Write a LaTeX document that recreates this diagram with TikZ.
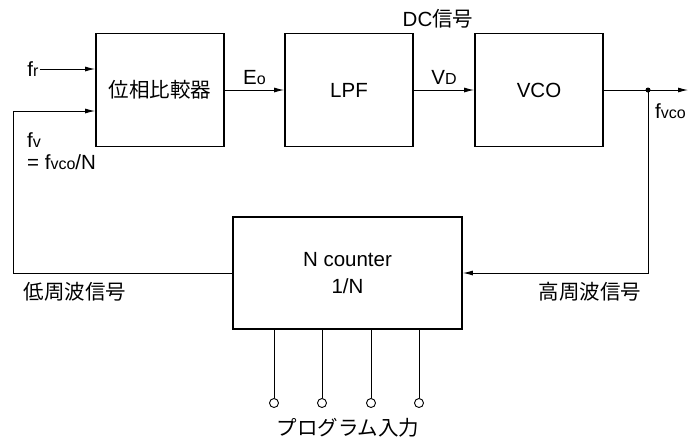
\documentclass[tikz,border=0pt]{standalone}
\usepackage{fontspec}
\setmainfont{Liberation Sans}
\newfontfamily\jpfont{Noto Sans CJK JP}
\usetikzlibrary{arrows.meta}
\newcommand\subs[1]{{\fontsize{16}{16}\selectfont #1}}
\tikzset{
	block/.style={draw,line width=1.8pt,minimum width=128pt,minimum height=113pt,inner sep=0pt},
	wire/.style={line width=0.9pt},
	pinc/.style={draw,circle,line width=0.9pt,inner sep=0pt,minimum size=9pt},
	>={Latex[length=10pt,width=5pt]}
}
\begin{document}
\begin{tikzpicture}[x=1pt,y=-1pt,inner sep=1pt,font=\fontsize{20.5}{24}\selectfont]
	\useasboundingbox (0,0) rectangle (688,440);
	\node[block] (Phase) at (160,90) {\jpfont 位相比較器};
	\node[block] (LPF) at (349,90) {LPF};
	\node[block] (VCO) at (539,90) {VCO};
	\node[block,minimum width=229pt,minimum height=112pt,align=center,font=\fontsize{20.5}{27}\selectfont] (Counter) at (347.5,273) {N counter\\1/N};
	\node (fr) at (33,69) {f\subs{r}};
	\draw [wire] [->] (fr.east) -- (fr.east -| Phase.west);
	\draw [wire] [->] (Phase) -- (LPF) node [midway,above=4pt] {E\subs{o}};
	\draw [wire] [->] (LPF) -- (VCO) node [midway,above=4pt] {V\subs{D}};
	\node (DC) at (438,19) {DC\jpfont 信号};
	\coordinate (Tap) at (648,90);
	\coordinate (Out) at (688,90);
	\draw [wire] (VCO) -- (Tap);
	\draw [wire] [->] (Tap) -- (Out);
	\fill (Tap) circle (2.5);
	\node [anchor=west] (fvco) at (654,111) {f\subs{vco}};
	\draw [wire] [->] (Tap) |- (Counter.east);
	\coordinate (FbCorner) at (13,111);
	\draw [wire] [->] (Counter.west) -| (FbCorner) -- (FbCorner -| Phase.west);
	\node [anchor=west,align=left,font=\fontsize{20.5}{22}\selectfont] (fv) at (26,151) {f\subs{v}\\= f\subs{vco}/N};
	\node (Low) at (75,292) {\jpfont 低周波信号};
	\node (High) at (590,292) {\jpfont 高周波信号};
	\foreach \px [count=\i] in {274,322,371,419} {
		\node[pinc] (Pin\i) at (\px,403) {};
		\draw [wire] (Pin\i |- Counter.south) -- (Pin\i);
	}
	\node (Prog) at (348,428) {\jpfont プログラム入力};
\end{tikzpicture}
\end{document}
